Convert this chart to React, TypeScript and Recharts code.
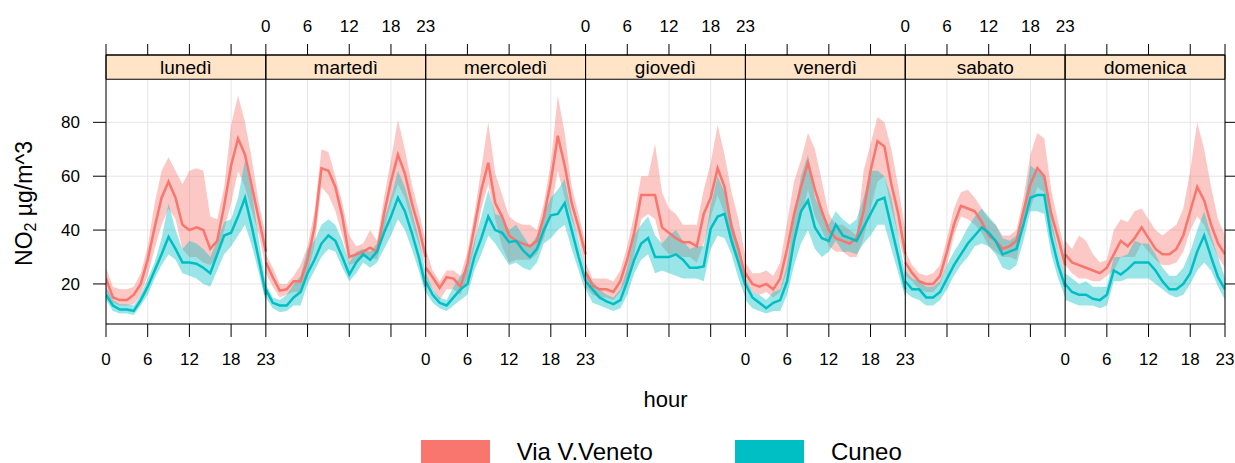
import {
  ComposedChart,
  Area,
  Line,
  XAxis,
  YAxis,
  CartesianGrid,
  ReferenceArea,
  ReferenceLine,
} from 'recharts';

// Weekday panels, 0–23 h each
const days = ['lunedì', 'martedì', 'mercoledì', 'giovedì', 'venerdì', 'sabato', 'domenica'];
const hours = Array.from({ length: 24 }, (_, h) => h);
const hourTicks = [0, 6, 12, 18, 23];
const yTicks = [20, 40, 60, 80];
const sites = ['Via V.Veneto', 'Cuneo'];

// Via V.Veneto: mean and confidence band, one row per weekday
const vvMean = [
  [22, 15, 14, 14, 16, 20, 29, 41, 52, 58, 52, 42, 40, 41, 40, 33, 36, 49, 64, 74, 68, 56, 44, 32],
  [28, 22.5, 17.5, 18, 21, 21, 29, 41, 63, 62, 56, 45, 30, 31, 32, 33.5, 32, 46, 58, 68, 61, 50, 41, 30],
  [26, 22.5, 18.5, 22.5, 22, 19, 27.5, 41, 55, 65, 50, 45, 38, 36, 35, 34, 36, 45, 58, 75, 64, 50, 41, 31],
  [24.5, 19.5, 18, 18, 17, 21, 29, 39, 53, 53, 53, 41, 39, 37, 35.5, 35.5, 34, 46, 52, 63, 56, 41, 33, 22.5],
  [24, 20, 19, 20, 18, 22, 33, 46, 56, 65, 55, 47, 40, 37, 36, 35, 37, 47, 62, 73, 71, 57, 46, 31],
  [28, 24, 21, 20, 20, 23, 32, 42, 49, 48, 47, 43, 38, 36, 33, 34, 36, 47, 57, 63, 60, 46, 37, 27],
  [31, 28, 27, 26, 25, 24, 26, 31, 36, 34, 37, 41, 37, 33, 31, 31, 33, 38, 47, 56, 51, 42, 35, 31],
];
const vvLow = [
  [17, 13, 12, 12, 12.5, 16, 23, 33, 42, 48, 44, 33, 30, 30, 28, 27, 30, 40, 50, 62, 56, 47, 38, 26],
  [24, 19, 15, 16, 17, 17, 24, 34, 56, 53, 47, 38, 27, 28, 30, 30, 29, 40, 50, 57, 52, 43, 35, 26],
  [22, 18, 14, 18, 18, 16, 22, 34, 48, 57, 44, 34, 28, 29, 29, 29, 31, 37, 47, 62, 52, 44, 37, 25],
  [19, 16, 15, 15, 14, 17, 22, 31, 44, 46, 44, 34, 31, 31, 30, 30, 28, 35, 45, 53, 46, 34, 27, 19],
  [21, 17, 16, 17, 15, 17, 25, 36, 45, 55, 45, 40, 34, 32, 32, 30, 30, 37, 48, 58, 60, 48, 38, 27],
  [23, 21, 18, 17, 17, 20, 27, 38, 45, 44, 42, 39, 34, 32, 30, 30, 29, 42, 48, 56, 54, 41, 32, 23],
  [27, 24, 22, 22, 21, 21, 23, 25, 30, 30, 30, 35, 32, 29, 27, 27, 28, 32, 40, 45, 42, 36, 30, 26],
];
const vvHigh = [
  [26, 19, 18, 18, 19, 24, 34, 50, 62, 67, 62, 57, 62, 63, 62, 45, 44, 56, 79, 90, 80, 66, 50, 38],
  [31, 26, 20, 20, 23, 27, 34, 47, 70, 69, 60, 50, 38, 34, 35, 40, 36, 52, 66, 81, 70, 57, 47, 36],
  [33, 25, 21, 25, 25, 23, 32, 46, 63, 80, 61, 53, 45, 43, 42, 42, 40, 50, 65, 90, 76, 56, 46, 35],
  [28, 22, 22, 22, 21, 25, 34, 46, 60, 60, 72, 54, 48, 46, 42, 42, 42, 55, 65, 79, 68, 54, 44, 30],
  [28, 24, 24, 25, 23, 28, 43, 58, 66, 76, 70, 58, 46, 42, 42, 40, 38, 62, 72, 82, 80, 70, 56, 40],
  [32, 27, 24, 23, 24, 27, 37, 48, 54, 55, 52, 48, 44, 42, 38, 38, 40, 52, 68, 76, 74, 55, 43, 32],
  [36, 33, 38, 36, 31, 28, 29, 40, 44, 43, 47, 48, 44, 40, 38, 40, 42, 48, 62, 80, 70, 56, 44, 38],
];

// Cuneo: mean and confidence band
const cnMean = [
  [16, 12, 10.5, 10.5, 10, 14, 19, 25, 31, 37.5, 33, 28, 28, 27.5, 26, 24, 31, 38, 39, 45, 52, 41, 29, 16],
  [18, 13, 12, 12, 15, 17, 24, 29, 35, 38, 36, 30, 23.5, 28, 31, 29, 32, 39, 45, 52, 47, 39, 30, 19],
  [21, 16, 13, 12, 15, 18, 20, 30, 37, 45, 40, 39, 35.5, 36, 32.5, 30, 33, 40, 45.5, 46, 50, 40, 30, 21],
  [21, 18, 15, 13.5, 12.5, 14, 21, 29, 35, 37, 30, 30, 30, 31, 29, 26, 26, 26.5, 40.5, 45, 46, 36, 28, 19.5],
  [20, 15, 13, 11, 13, 14, 21, 36, 47, 51, 41, 37, 36, 42, 38, 37, 36, 41, 46, 51, 52, 41, 30, 18],
  [21, 18, 18, 15, 15, 17, 22, 27, 31, 35, 38, 41, 39, 36, 31, 32, 33, 42, 52, 53, 53, 37.5, 27, 19],
  [20, 17, 16, 16, 14.5, 14, 16, 25, 23.5, 25.5, 28, 28, 28, 25, 21, 18, 18, 20, 24, 32, 38, 30, 22.5, 18],
];
const cnLow = [
  [14, 10, 9, 9, 8.5, 12, 16, 22, 27, 31, 29, 24, 23, 22, 20, 19, 25, 31, 34, 38, 42, 34, 24, 13],
  [15, 11, 9.5, 10, 12, 12, 20, 25, 30, 33, 32, 26, 21, 24, 28, 26, 28, 33, 38, 44, 40, 33, 25, 16],
  [17, 13, 11, 10, 12, 14, 16, 25, 31, 38, 35, 31, 27, 28, 26, 25, 28, 35, 37, 40, 42, 33, 25, 17],
  [18, 13, 12, 11, 10, 11, 16, 24, 29, 31, 24, 25, 24, 23, 22, 22, 22, 21, 33, 38, 37, 31, 22, 15],
  [14, 11, 10, 9, 10, 10, 16, 27, 35, 40, 33, 30, 32, 36, 32, 32, 31, 35, 38, 42, 42, 33, 24, 15],
  [17, 15, 14, 12, 12, 14, 18, 23, 27, 30, 34, 35, 34, 31, 26, 25, 27, 36, 47, 47, 46, 31, 22, 15],
  [14, 13, 12, 12, 12, 11, 12, 21, 21, 22, 22, 22, 22, 20, 18, 16, 15, 16, 20, 25, 28, 25, 19, 14],
];
const cnHigh = [
  [19, 14, 12.5, 12.5, 12, 16, 22, 28, 37, 50, 40, 33, 36, 35, 33, 30, 36, 43, 44, 52, 66, 54, 36, 20],
  [20, 15, 14, 16, 20, 23, 33, 36, 42, 44, 42, 36, 28, 32, 33, 32, 35, 44, 52, 62, 56, 47, 37, 24],
  [24, 18, 15, 14, 19, 23, 26, 36, 45, 55, 46, 45, 40, 42, 38, 34, 38, 46, 52, 55, 59, 46, 36, 25],
  [25, 21, 18, 16, 15, 18, 26, 38, 42, 45, 38, 35, 38, 40, 36, 33, 34, 34, 49, 60, 54, 44, 34, 24],
  [22, 17, 16, 14, 17, 18, 27, 46, 60, 68, 52, 47, 42, 47, 44, 42, 44, 52, 62, 62, 60, 52, 38, 23],
  [25, 22, 21, 19, 19, 21, 27, 32, 36, 41, 45, 48, 45, 42, 37, 36, 38, 48, 64, 62, 60, 44, 32, 23],
  [24, 22, 20, 21, 19, 19, 19, 30, 30, 31, 36, 35, 35, 31, 26, 23, 23, 26, 32, 40, 47, 38, 30, 22],
];

const COL_VV = '#F8766D';
const COL_CN = '#00BFC4';
const STRIP = '#FFE4C8';
const SPAN = 23; // hours per panel on the shared x scale
const X_MAX = SPAN * days.length;
const Y_MIN = 5.13;
const STRIP_LO = 96;
const Y_MAX = 105;

// one row per (day, hour); each day gets its own keys so panels don't join up
const rows = days.flatMap((_, d) =>
  hours.map((h) => ({
    x: d * SPAN + h,
    [`vv${d}`]: vvMean[d][h],
    [`vvb${d}`]: [vvLow[d][h], vvHigh[d][h]],
    [`cn${d}`]: cnMean[d][h],
    [`cnb${d}`]: [cnLow[d][h], cnHigh[d][h]],
  }))
);

const xTicks = Array.from(new Set(days.flatMap((_, d) => hourTicks.map((h) => d * SPAN + h))));

// bottom axis labels panels 1,3,5,7; top axis labels panels 2,4,6
function bottomLabel(v: number) {
  if (v % SPAN === 0) return (v / SPAN) % 2 === 0 ? '0' : '23';
  const d = Math.floor(v / SPAN);
  return d % 2 === 0 ? String(v - d * SPAN) : '';
}
function topLabel(v: number) {
  if (v % SPAN === 0) {
    const k = v / SPAN;
    if (k === 0 || k === days.length) return '';
    return k % 2 === 1 ? '0' : '23';
  }
  const d = Math.floor(v / SPAN);
  return d % 2 === 1 ? String(v - d * SPAN) : '';
}

function NO2Title(props: any) {
  const vb = props.viewBox || {};
  const cx = 24;
  const cy = vb.y != null ? vb.y + vb.height / 2 + 14 : 203;
  return (
    <text
      x={cx}
      y={cy}
      transform={`rotate(-90 ${cx} ${cy})`}
      textAnchor="middle"
      dominantBaseline="central"
      fontSize={23}
      fill="#000"
    >
      NO
      <tspan dy={6} fontSize={16}>2</tspan>
      <tspan dy={-6}> µg/m^3</tspan>
    </text>
  );
}

const tickStyle = { fill: '#000', fontSize: 17 };
const legendText = { position: 'absolute' as const, top: 442, fontSize: 24, lineHeight: '20px', whiteSpace: 'nowrap' as const };

export default function App() {
  return (
    <div
      style={{
        position: 'absolute',
        left: 0,
        top: 0,
        width: 1235,
        height: 463,
        overflow: 'hidden',
        background: '#fff',
        fontFamily: '"Liberation Sans", Arial, sans-serif',
      }}
    >
      <ComposedChart width={1235} height={463} data={rows} margin={{ top: 5, right: 0, bottom: 89, left: 0 }}>
        <CartesianGrid stroke="#e6e6e6" />
        <XAxis
          dataKey="x"
          type="number"
          domain={[0, X_MAX]}
          allowDataOverflow
          ticks={xTicks}
          interval={0}
          tickFormatter={bottomLabel}
          height={50}
          tickSize={13}
          tickMargin={16}
          stroke="#000"
          tick={tickStyle}
          label={{ value: 'hour', position: 'bottom', offset: 17, fill: '#000', fontSize: 22 }}
        />
        <XAxis
          xAxisId="t"
          orientation="top"
          dataKey="x"
          type="number"
          domain={[0, X_MAX]}
          allowDataOverflow
          ticks={xTicks}
          interval={0}
          tickFormatter={topLabel}
          height={50}
          tickSize={11}
          tickMargin={12}
          stroke="#000"
          tick={tickStyle}
        />
        <YAxis
          type="number"
          domain={[Y_MIN, Y_MAX]}
          allowDataOverflow
          ticks={yTicks}
          interval={0}
          width={106}
          tickSize={13}
          tickMargin={13}
          stroke="#000"
          tick={tickStyle}
          label={{ content: NO2Title }}
        />
        <YAxis
          yAxisId="r"
          orientation="right"
          type="number"
          domain={[Y_MIN, Y_MAX]}
          allowDataOverflow
          ticks={yTicks}
          interval={0}
          width={10}
          tickSize={10}
          tickFormatter={() => ''}
          stroke="#000"
        />

        {days.map((day, d) => (
          <ReferenceArea
            key={`strip-${day}`}
            x1={d * SPAN}
            x2={(d + 1) * SPAN}
            y1={STRIP_LO}
            y2={Y_MAX}
            fill={STRIP}
            fillOpacity={1}
            stroke="#000"
            strokeWidth={1}
            label={{ value: day, position: 'center', fill: '#000', fontSize: 19 }}
          />
        ))}

        {days.map((day, d) => (
          <Area
            key={`vvb-${day}`}
            type="linear"
            dataKey={`vvb${d}`}
            stroke="none"
            fill={COL_VV}
            fillOpacity={0.4}
            dot={false}
            activeDot={false}
            isAnimationActive={false}
          />
        ))}
        {days.map((day, d) => (
          <Area
            key={`cnb-${day}`}
            type="linear"
            dataKey={`cnb${d}`}
            stroke="none"
            fill={COL_CN}
            fillOpacity={0.4}
            dot={false}
            activeDot={false}
            isAnimationActive={false}
          />
        ))}
        {days.map((day, d) => (
          <Line
            key={`vv-${day}`}
            type="linear"
            dataKey={`vv${d}`}
            stroke={COL_VV}
            strokeWidth={2.5}
            dot={false}
            activeDot={false}
            isAnimationActive={false}
          />
        ))}
        {days.map((day, d) => (
          <Line
            key={`cn-${day}`}
            type="linear"
            dataKey={`cn${d}`}
            stroke={COL_CN}
            strokeWidth={2.5}
            dot={false}
            activeDot={false}
            isAnimationActive={false}
          />
        ))}

        {days.slice(1).map((day, i) => (
          <ReferenceLine key={`div-${day}`} x={(i + 1) * SPAN} stroke="#000" strokeWidth={1} />
        ))}
      </ComposedChart>

      {/* legend */}
      <div style={{ position: 'absolute', left: 420.6, top: 440, width: 69, height: 30, background: COL_VV }} />
      <div style={{ ...legendText, left: 516.7 }}>{sites[0]}</div>
      <div style={{ position: 'absolute', left: 735, top: 440, width: 69, height: 30, background: COL_CN }} />
      <div style={{ ...legendText, left: 831 }}>{sites[1]}</div>
    </div>
  );
}
